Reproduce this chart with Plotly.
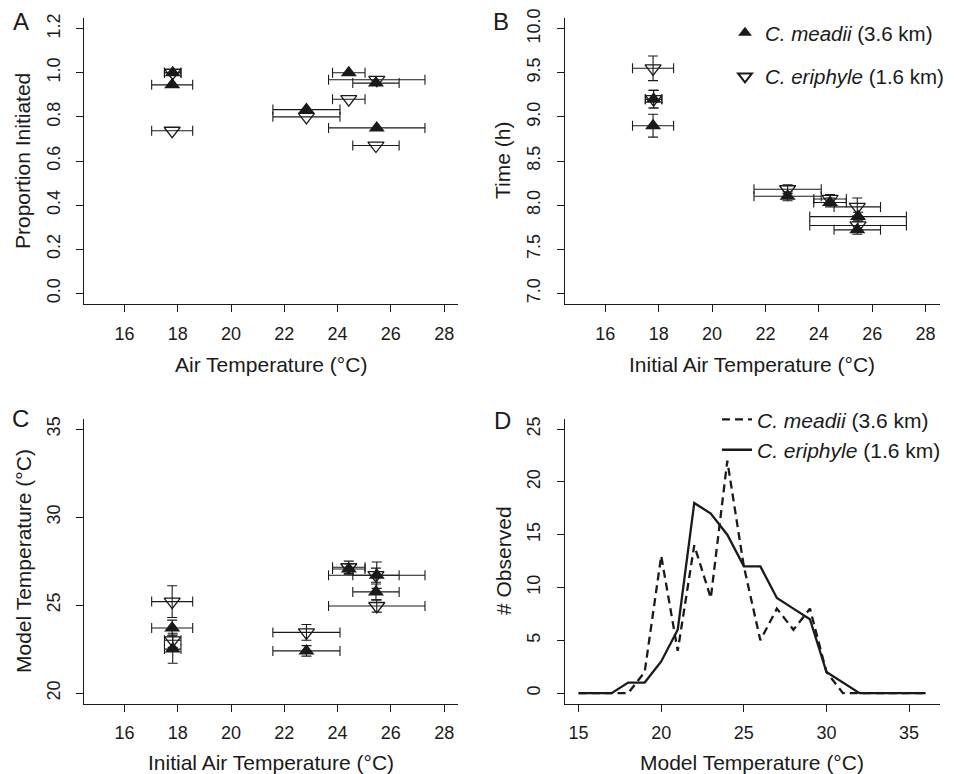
import plotly.graph_objects as go

# site groups: initial air temperature (mean, sd) shared by both species
air_temp = [17.81, 17.79, 22.83, 24.42, 25.44, 25.47]
air_temp_sd = [0.31, 0.77, 1.26, 0.61, 0.87, 1.81]

# A: proportion initiated
meadii_prop = [1.0, 0.945, 0.833, 1.0, 0.953, 0.75]
eriphyle_prop = [1.0, 0.737, 0.80, 0.88, 0.67, 0.968]

# B: time (h)
meadii_time = [9.2, 8.9, 8.1, 8.03, 7.72, 7.87]
meadii_time_sd = [0.1, 0.13, 0.05, 0.05, 0.05, 0.05]
eriphyle_time = [9.2, 9.55, 8.18, 8.07, 7.98, 7.77]
eriphyle_time_sd = [0.1, 0.14, 0.05, 0.05, 0.1, 0.05]

# C: model temperature
meadii_model = [22.5, 23.7, 22.4, 27.05, 25.75, 26.7]
meadii_model_sd = [0.8, 0.45, 0.3, 0.3, 0.45, 0.75]
eriphyle_model = [23.0, 25.2, 23.45, 27.15, 26.7, 24.95]
eriphyle_model_sd = [0.4, 0.9, 0.45, 0.35, 0.4, 0.35]

# D: histogram of model temperatures
model_temp = [15, 16, 17, 18, 19, 20, 21, 22, 23, 24, 25, 26, 27, 28, 29, 30, 31, 32, 33, 34, 35, 36]
meadii_counts = [0, 0, 0, 0, 2, 13, 4, 14, 9, 22, 12, 5, 8, 6, 8, 2, 0, 0, 0, 0, 0, 0]
eriphyle_counts = [0, 0, 0, 1, 1, 3, 6, 18, 17, 15, 12, 12, 9, 8, 7, 2, 1, 0, 0, 0, 0, 0]

MEADII = "<i>C. meadii</i> (3.6 km)"
ERIPHYLE = "<i>C. eriphyle</i> (1.6 km)"
INK = "#1a1a1a"
FONT = "Liberation Sans, Arial, Helvetica, sans-serif"

# the page body has an 8px margin, so the figure is 8px smaller and positions
# below are given in window pixels and converted to paper fractions
OFF = 8
W, H = 954 - OFF, 774 - OFF


def fx(x):
    return (x - OFF) / W


def fy(y):
    return 1 - (y - OFF) / H


def err(vals):
    return dict(type="data", array=vals, visible=True, color=INK, thickness=1.1, width=5)


filled = dict(symbol="triangle-up", size=14, color=INK, line=dict(width=0))
hollow = dict(symbol="triangle-down-open", size=14, color=INK, line=dict(width=1.3, color=INK))

fig = go.Figure()

# panel A
fig.add_trace(go.Scatter(x=air_temp, y=meadii_prop, mode="markers", marker=filled,
                         error_x=err(air_temp_sd), xaxis="x", yaxis="y", showlegend=False))
fig.add_trace(go.Scatter(x=air_temp, y=eriphyle_prop, mode="markers", marker=hollow,
                         error_x=err(air_temp_sd), xaxis="x", yaxis="y", showlegend=False))

# panel B (carries the legend)
fig.add_trace(go.Scatter(x=air_temp, y=meadii_time, mode="markers", marker=filled, name=MEADII,
                         error_x=err(air_temp_sd), error_y=err(meadii_time_sd),
                         xaxis="x2", yaxis="y2", legend="legend", legendgroup="m"))
fig.add_trace(go.Scatter(x=air_temp, y=eriphyle_time, mode="markers", marker=hollow, name=ERIPHYLE,
                         error_x=err(air_temp_sd), error_y=err(eriphyle_time_sd),
                         xaxis="x2", yaxis="y2", legend="legend", legendgroup="e"))

# panel C
fig.add_trace(go.Scatter(x=air_temp, y=meadii_model, mode="markers", marker=filled,
                         error_x=err(air_temp_sd), error_y=err(meadii_model_sd),
                         xaxis="x3", yaxis="y3", showlegend=False))
fig.add_trace(go.Scatter(x=air_temp, y=eriphyle_model, mode="markers", marker=hollow,
                         error_x=err(air_temp_sd), error_y=err(eriphyle_model_sd),
                         xaxis="x3", yaxis="y3", showlegend=False))

# panel D
fig.add_trace(go.Scatter(x=model_temp, y=meadii_counts, mode="lines", name=MEADII,
                         line=dict(color=INK, width=2.3, dash="8px,5px"),
                         xaxis="x4", yaxis="y4", legend="legend2", legendgroup="m2"))
fig.add_trace(go.Scatter(x=model_temp, y=eriphyle_counts, mode="lines", name=ERIPHYLE,
                         line=dict(color=INK, width=2.3),
                         xaxis="x4", yaxis="y4", legend="legend2", legendgroup="e2"))

left_dom = [fx(84), fx(458)]
right_dom = [fx(564.7), fx(939.5)]
top_dom = [fy(304), fy(18)]
bot_dom = [fy(703.7), fy(418.5)]


def xax(dom, anchor, rng, ticks):
    return dict(domain=dom, anchor=anchor, range=rng, tickvals=ticks, showgrid=False, zeroline=False,
                showline=True, linecolor=INK, linewidth=1.1, ticks="outside", ticklen=7,
                tickwidth=1.1, tickcolor=INK, ticklabelstandoff=6,
                tickfont=dict(size=18, color=INK, family=FONT))


def yax(dom, anchor, rng, ticks, fmt=None):
    d = dict(domain=dom, anchor=anchor, range=rng, tickvals=ticks, showgrid=False, zeroline=False,
             showline=True, linecolor=INK, linewidth=1.1, ticks="outside", ticklen=7,
             tickwidth=1.1, tickcolor=INK, tickangle=-90, ticklabelstandoff=9,
             tickfont=dict(size=18, color=INK, family=FONT))
    if fmt:
        d["tickformat"] = fmt
    return d


temp_ticks = [16, 18, 20, 22, 24, 26, 28]

fig.update_layout(
    width=W, height=H,
    margin=dict(l=0, r=0, t=0, b=0, autoexpand=False),
    paper_bgcolor="white", plot_bgcolor="white",
    font=dict(family=FONT, color=INK, size=21),
    xaxis=xax(left_dom, "y", [14.48, 28.52], temp_ticks),
    yaxis=yax(top_dom, "x", [-0.048, 1.248], [0, 0.2, 0.4, 0.6, 0.8, 1.0, 1.2], ".1f"),
    xaxis2=xax(right_dom, "y2", [14.48, 28.52], temp_ticks),
    yaxis2=yax(top_dom, "x2", [6.88, 10.12], [7.0, 7.5, 8.0, 8.5, 9.0, 9.5, 10.0], ".1f"),
    xaxis3=xax(left_dom, "y3", [14.48, 28.52], temp_ticks),
    yaxis3=yax(bot_dom, "x3", [19.4, 35.6], [20, 25, 30, 35]),
    xaxis4=xax(right_dom, "y4", [14.16, 36.84], [15, 20, 25, 30, 35]),
    yaxis4=yax(bot_dom, "x4", [-1, 26], [0, 5, 10, 15, 20, 25]),
    legend=dict(x=fx(725), y=fy(13), xanchor="left", yanchor="top", bgcolor="rgba(0,0,0,0)",
                font=dict(size=20.5, family=FONT, color=INK), itemsizing="constant",
                tracegroupgap=14, borderwidth=0),
    legend2=dict(x=fx(717), y=fy(399.3), xanchor="left", yanchor="top", bgcolor="rgba(0,0,0,0)",
                 font=dict(size=21, family=FONT, color=INK), tracegroupgap=0, borderwidth=0),
)

# axis titles and panel letters
labels = [
    ("Air Temperature (°C)", 271, 365, 0),
    ("Initial Air Temperature (°C)", 752, 365, 0),
    ("Initial Air Temperature (°C)", 271, 762, 0),
    ("Model Temperature (°C)", 752, 762, 0),
    ("Proportion Initiated", 23, 161, -90),
    ("Time (h)", 503, 161, -90),
    ("Model Temperature (°C)", 23, 561, -90),
    ("# Observed", 503, 561, -90),
]
for text, px, py, ang in labels:
    fig.add_annotation(text=text, x=fx(px), y=fy(py), xref="paper", yref="paper",
                       xanchor="center", yanchor="middle", textangle=ang, showarrow=False,
                       font=dict(size=21, family=FONT, color=INK))

for letter, px, py in [("A", 21, 21), ("B", 501, 21), ("C", 20, 418), ("D", 502, 420)]:
    fig.add_annotation(text=letter, x=fx(px), y=fy(py), xref="paper", yref="paper",
                       xanchor="center", yanchor="middle", showarrow=False,
                       font=dict(size=24, family=FONT, color=INK))

fig.write_html("out.html")
